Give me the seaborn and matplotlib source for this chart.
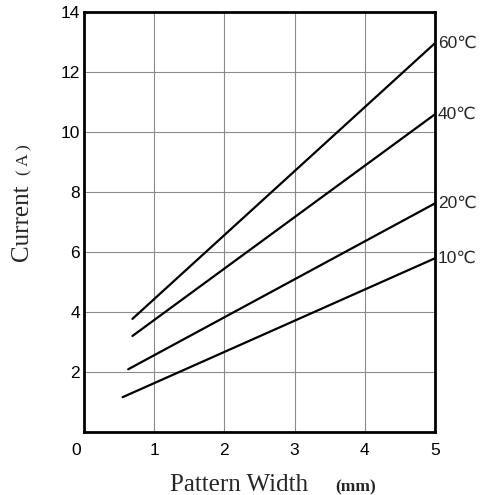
import pandas as pd
import seaborn as sns
import matplotlib.pyplot as plt
from matplotlib.transforms import ScaledTranslation

# curve end points
temps = ["10℃", "20℃", "40℃", "60℃"]
width_start = [0.55, 0.63, 0.69, 0.69]
width_end = [5.0, 5.0, 5.0, 5.0]
current_start = [1.16, 2.09, 3.2, 3.77]
current_end = [5.79, 7.62, 10.59, 12.96]

rows = []
for t, x0, x1, y0, y1 in zip(temps, width_start, width_end, current_start, current_end):
    rows.append({"temp": t, "width": x0, "current": y0})
    rows.append({"temp": t, "width": x1, "current": y1})
df = pd.DataFrame(rows)

sns.set_style("white")
plt.rcParams["font.family"] = ["Liberation Sans", "DejaVu Sans"]

fig = plt.figure(figsize=(4.86, 4.95), dpi=100)
ax = fig.add_axes([0.1728, 0.1273, 0.7222, 0.8485])

sns.lineplot(data=df, x="width", y="current", hue="temp",
             palette=["black"] * 4, linewidth=1.6, legend=False, ax=ax)

ax.set_xlim(0, 5)
ax.set_ylim(0, 14)
ax.set_xticks([0, 1, 2, 3, 4, 5])
ax.set_yticks([2, 4, 6, 8, 10, 12, 14])
ax.grid(True, color="#8a8a8a", linewidth=0.8)
ax.tick_params(length=0, labelsize=12.5, colors="black")
ax.tick_params(axis="x", pad=8)
ax.tick_params(axis="y", pad=3)
for s in ax.spines.values():
    s.set_color("black")
    s.set_linewidth(2)

# the "0" sits a little left of the corner
lab0 = ax.get_xticklabels()[0]
lab0.set_transform(lab0.get_transform() + ScaledTranslation(-8 / 100, 0, fig.dpi_scale_trans))

# label each curve at right end
for t, y in zip(temps, current_end):
    ax.text(5.04, y, t, fontsize=12.5, va="center", ha="left",
            clip_on=False)

ax.set_xlabel("")
ax.set_ylabel("")
serif = "Liberation Serif"
fig.text(0.35, 0.008, "Pattern Width", family=serif, fontsize=18,
         ha="left", va="baseline")
fig.text(0.689, 0.008, "(mm)", family=serif, fontsize=12.5, weight="bold",
         ha="left", va="baseline")
fig.text(0.045, 0.549, "Current", family=serif, fontsize=18,
         rotation=90, ha="center", va="center")
fig.text(0.051, 0.677, "( A )", family=serif, fontsize=12.5,
         rotation=90, ha="center", va="center")

fig.savefig("out.png", dpi=100)
